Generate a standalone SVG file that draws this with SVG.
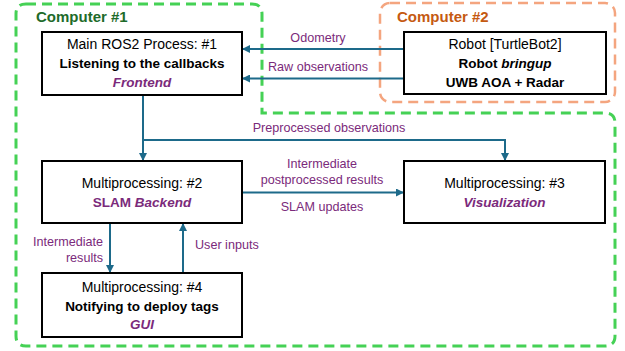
<svg xmlns="http://www.w3.org/2000/svg" width="625" height="351" viewBox="0 0 625 351">
<style>
.bg{fill:#ffffff}
.grp1{fill:none;stroke:#45d155;stroke-width:3;stroke-dasharray:10 6}
.grp2{fill:none;stroke:#f4a57f;stroke-width:2.5;stroke-dasharray:10 6}
.box{fill:#ffffff;stroke:#000000;stroke-width:2}
.t{font-family:"Liberation Sans",Arial,sans-serif;font-size:14px;fill:#000000;text-anchor:middle}
.b{font-weight:bold;font-size:13.5px}
.i{font-style:italic}
.p{fill:#7b2a7b}
.lbl{font-family:"Liberation Sans",Arial,sans-serif;font-size:12.6px;fill:#7b2a7b}
.title{font-family:"Liberation Sans",Arial,sans-serif;font-size:15px;font-weight:bold}
.c{fill:none;stroke:#1d6a8a;stroke-width:2}
</style>
<defs>
<marker id="ah" markerWidth="8" markerHeight="8" refX="7" refY="4" orient="auto" markerUnits="userSpaceOnUse">
<path d="M0,0 L8,4 L0,8 Z" fill="#1d6a8a"/>
</marker>
</defs>
<rect class="bg" x="0" y="0" width="625" height="351"/>
<g id="computer1">
<path class="grp1" d="M26,4 H252 Q262,4 262,14 V113 H605 Q615,113 615,123 V336 Q615,346 605,346 H26 Q16,346 16,336 V14 Q16,4 26,4 Z"/>
<text class="title" x="36" y="22" fill="#1e6b2a">Computer #1</text>
</g>
<g id="computer2">
<rect class="grp2" x="380" y="3" width="235" height="99" rx="10"/>
<text class="title" x="397" y="22" fill="#c55a11">Computer #2</text>
</g>
<g id="connectors">
<line class="c" x1="404" y1="49" x2="243" y2="49" marker-end="url(#ah)"/>
<text class="lbl" x="318" y="42" text-anchor="middle">Odometry</text>
<line class="c" x1="404" y1="78.5" x2="243" y2="78.5" marker-end="url(#ah)"/>
<text class="lbl" x="318" y="71" text-anchor="middle">Raw observations</text>
<line class="c" x1="143" y1="95" x2="143" y2="160" marker-end="url(#ah)"/>
<polyline class="c" points="143,140 505,140 505,160" marker-end="url(#ah)"/>
<text class="lbl" x="329" y="132" text-anchor="middle">Preprocessed observations</text>
<line class="c" x1="242" y1="192.5" x2="403" y2="192.5" marker-end="url(#ah)"/>
<text class="lbl" x="322" y="168" text-anchor="middle">Intermediate</text>
<text class="lbl" x="322" y="184" text-anchor="middle">postprocessed results</text>
<text class="lbl" x="322" y="211" text-anchor="middle">SLAM updates</text>
<line class="c" x1="110" y1="223" x2="110" y2="272" marker-end="url(#ah)"/>
<text class="lbl" x="103" y="246" text-anchor="end">Intermediate</text>
<text class="lbl" x="103" y="262" text-anchor="end">results</text>
<line class="c" x1="183" y1="273" x2="183" y2="224" marker-end="url(#ah)"/>
<text class="lbl" x="195" y="249">User inputs</text>
</g>
<g id="node1">
<rect class="box" x="42" y="32" width="200" height="63"/>
<text class="t" x="142" y="49">Main ROS2 Process: #1</text>
<text class="t b" x="142" y="68">Listening to the callbacks</text>
<text class="t b i p" x="142" y="87">Frontend</text>
</g>
<g id="robot">
<rect class="box" x="404" y="32" width="202" height="62"/>
<text class="t" x="505" y="49">Robot [TurtleBot2]</text>
<text class="t b" x="505" y="68">Robot <tspan class="i">bringup</tspan></text>
<text class="t b" x="505" y="87">UWB AOA + Radar</text>
</g>
<g id="node2">
<rect class="box" x="42" y="161" width="200" height="62"/>
<text class="t" x="142" y="188">Multiprocessing: #2</text>
<text class="t b p" x="142" y="207">SLAM <tspan class="i">Backend</tspan></text>
</g>
<g id="node3">
<rect class="box" x="404" y="161" width="201" height="62"/>
<text class="t" x="504.5" y="188">Multiprocessing: #3</text>
<text class="t b i p" x="504.5" y="207">Visualization</text>
</g>
<g id="node4">
<rect class="box" x="42" y="273" width="200" height="64"/>
<text class="t" x="142" y="292">Multiprocessing: #4</text>
<text class="t b" x="142" y="311">Notifying to deploy tags</text>
<text class="t b i p" x="142" y="329">GUI</text>
</g>
</svg>
